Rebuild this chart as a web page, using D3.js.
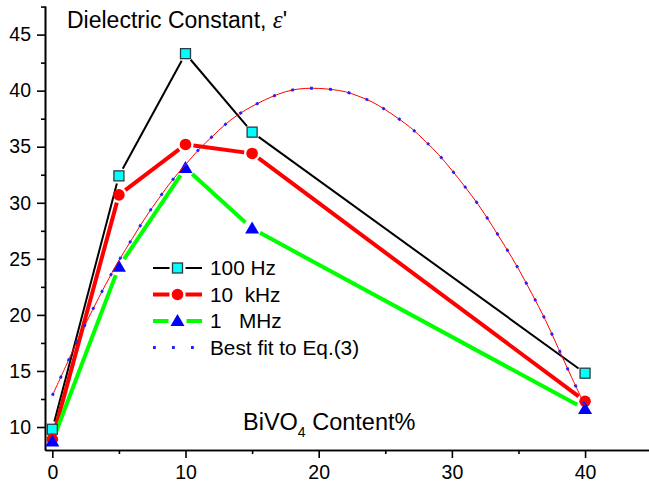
<!DOCTYPE html>
<html>
<head>
<meta charset="utf-8">
<script src="https://cdn.jsdelivr.net/npm/d3@7"></script>
<style>
  body { margin: 0; background: #fff; }
  svg { display: block; font-family: "Liberation Sans", Arial, sans-serif; }
  .lbl { white-space: pre; }
</style>
</head>
<body>
<svg id="chart" width="649" height="485"></svg>
<script>
// contenu en BiVO4 (%)
var content = [0, 5, 10, 15, 40];
var hz100 = [9.8, 32.4, 43.3, 36.3, 14.8];
var khz10 = [8.9, 30.7, 35.2, 34.4, 12.3];
var mhz1 = [8.7, 24.3, 33.1, 27.7, 11.6];

// courbe d'ajustement, x = 0..40
var fitX = [0, 1, 2, 3, 4, 5, 6, 7, 8, 9, 10, 11, 12, 13, 14, 15, 16, 17, 18, 19, 20,
            21, 22, 23, 24, 25, 26, 27, 28, 29, 30, 31, 32, 33, 34, 35, 36, 37, 38, 39, 40];
var fitY = [12.8, 15.4, 18.0, 20.4, 22.7, 24.85, 26.8, 28.7, 30.4, 32.0, 33.4, 34.75, 35.9, 37.0, 37.9,
            38.6, 39.2, 39.7, 40.05, 40.2, 40.2, 40.1, 39.9, 39.5, 39.0, 38.3, 37.5, 36.6, 35.5, 34.3,
            32.9, 31.4, 29.8, 28.0, 26.1, 24.1, 21.9, 19.6, 17.0, 14.4, 11.9];

var xTicks = [0, 10, 20, 30, 40];
var xMinor = [5, 15, 25, 35];
var yTicks = [10, 15, 20, 25, 30, 35, 40, 45];
var yMinor = [12.5, 17.5, 22.5, 27.5, 32.5, 37.5, 42.5, 47.5];

var svg = d3.select("#chart");

var x = d3.scaleLinear().domain([-0.55, 44.8]).range([45, 649]);
var y = d3.scaleLinear().domain([7.95, 47.55]).range([450, 6]);

// axes
function styleAxis(g) {
    g.select(".domain").attr("stroke", "#000").attr("stroke-width", 1.6);
    g.selectAll(".tick line").attr("stroke", "#000").attr("stroke-width", 1.6);
    g.selectAll("text").attr("fill", "#000").style("font-family", "Liberation Sans, Arial, sans-serif");
}

svg.append("g").attr("transform", "translate(0,450)")
    .call(d3.axisBottom(x).tickValues(xMinor).tickSize(4).tickFormat("").tickSizeOuter(0))
    .call(styleAxis);
svg.append("g").attr("transform", "translate(0,450)")
    .call(d3.axisBottom(x).tickValues(xTicks).tickSize(8).tickPadding(7).tickSizeOuter(0))
    .call(styleAxis)
    .selectAll("text").style("font-size", "19.5px");

svg.append("g").attr("transform", "translate(45,0)")
    .call(d3.axisLeft(y).tickValues(yMinor).tickSize(4).tickFormat("").tickSizeOuter(0))
    .call(styleAxis);
svg.append("g").attr("transform", "translate(45,0)")
    .call(d3.axisLeft(y).tickValues(yTicks).tickSize(8).tickPadding(6).tickSizeOuter(0))
    .call(styleAxis)
    .selectAll("text").style("font-size", "19.5px");

// séries : lignes avec un petit espace autour des symboles
var series = [
    { name: "100 Hz", values: hz100, color: "#000", width: 2, gap: 8, sym: "square" },
    { name: "10  kHz", values: khz10, color: "#ff0000", width: 4, gap: 8, sym: "circle" },
    { name: "1   MHz", values: mhz1, color: "#00ff00", width: 4, gap: 9, sym: "triangle" }
];

function gapSegments(pts, gap) {
    var segs = [];
    for (var i = 0; i < pts.length - 1; i++) {
        var a = pts[i], b = pts[i + 1];
        var dx = b[0] - a[0], dy = b[1] - a[1];
        var len = Math.sqrt(dx * dx + dy * dy);
        if (len <= 2 * gap) continue;
        var ux = dx / len, uy = dy / len;
        segs.push([a[0] + ux * gap, a[1] + uy * gap, b[0] - ux * gap, b[1] - uy * gap]);
    }
    return segs;
}

function drawSymbol(g, sym, cx, cy) {
    if (sym === "square") {
        g.append("rect").attr("x", cx - 5).attr("y", cy - 5).attr("width", 10).attr("height", 10)
            .attr("fill", "#00ffff").attr("stroke", "#2a3f3f").attr("stroke-width", 1.3);
    } else if (sym === "circle") {
        g.append("circle").attr("cx", cx).attr("cy", cy).attr("r", 5.8).attr("fill", "#ff0000");
    } else {
        g.append("path").attr("d", "M" + cx + "," + (cy - 7) + "L" + (cx + 7) + "," + (cy + 5) + "L" + (cx - 7) + "," + (cy + 5) + "Z")
            .attr("fill", "#0000ff");
    }
}

series.forEach(function(s) {
    var pts = content.map(function(c, i) { return [x(c), y(s.values[i])]; });
    svg.append("g").selectAll("line")
        .data(gapSegments(pts, s.gap))
        .enter().append("line")
        .attr("x1", function(d) { return d[0]; })
        .attr("y1", function(d) { return d[1]; })
        .attr("x2", function(d) { return d[2]; })
        .attr("y2", function(d) { return d[3]; })
        .attr("stroke", s.color)
        .attr("stroke-width", s.width);
});

series.forEach(function(s) {
    var g = svg.append("g");
    content.forEach(function(c, i) { drawSymbol(g, s.sym, x(c), y(s.values[i])); });
});

// courbe d'ajustement : ligne rouge fine + pointillé bleu
var fitLine = d3.line()
    .x(function(d, i) { return x(fitX[i]); })
    .y(function(d) { return y(d); })
    .curve(d3.curveCatmullRom);

svg.append("path").attr("d", fitLine(fitY))
    .attr("fill", "none").attr("stroke", "#ff0000").attr("stroke-width", 1);
svg.append("path").attr("d", fitLine(fitY))
    .attr("fill", "none").attr("stroke", "#2020ff").attr("stroke-width", 2.8)
    .attr("stroke-dasharray", "2.8 16.2");

// légende
var legX1 = 153, legX2 = 202, legTx = 210;
var legY = [268, 294.5, 321, 347.5];
series.forEach(function(s, i) {
    var g = svg.append("g");
    var mid = (legX1 + legX2) / 2;
    g.append("line").attr("x1", legX1).attr("x2", mid - s.gap).attr("y1", legY[i]).attr("y2", legY[i])
        .attr("stroke", s.color).attr("stroke-width", s.width);
    g.append("line").attr("x1", mid + s.gap).attr("x2", legX2).attr("y1", legY[i]).attr("y2", legY[i])
        .attr("stroke", s.color).attr("stroke-width", s.width);
    drawSymbol(g, s.sym, mid, legY[i]);
    g.append("text").attr("class", "lbl").attr("x", legTx).attr("y", legY[i] + 7)
        .style("font-size", "20.8px").text(s.name);
});
svg.append("line").attr("x1", legX1).attr("x2", legX2).attr("y1", legY[3]).attr("y2", legY[3])
    .attr("stroke", "#2020ff").attr("stroke-width", 2.8).attr("stroke-dasharray", "2.8 16.2");
svg.append("text").attr("class", "lbl").attr("x", legTx).attr("y", legY[3] + 7)
    .style("font-size", "20.8px").text("Best fit to Eq.(3)");

// titres
var title = svg.append("text").attr("x", 67).attr("y", 28).style("font-size", "23px");
title.append("tspan").text("Dielectric Constant, ");
title.append("tspan").style("font-family", "Liberation Serif, Times New Roman, serif")
    .style("font-style", "italic").style("font-size", "25px").text("ε");
title.append("tspan").text("'");

var xl = svg.append("text").attr("x", 243).attr("y", 430).style("font-size", "23.5px");
xl.append("tspan").text("BiVO");
xl.append("tspan").attr("dy", 7).style("font-size", "14px").text("4");
xl.append("tspan").attr("dy", -7).text(" Content%");
</script>
</body>
</html>
